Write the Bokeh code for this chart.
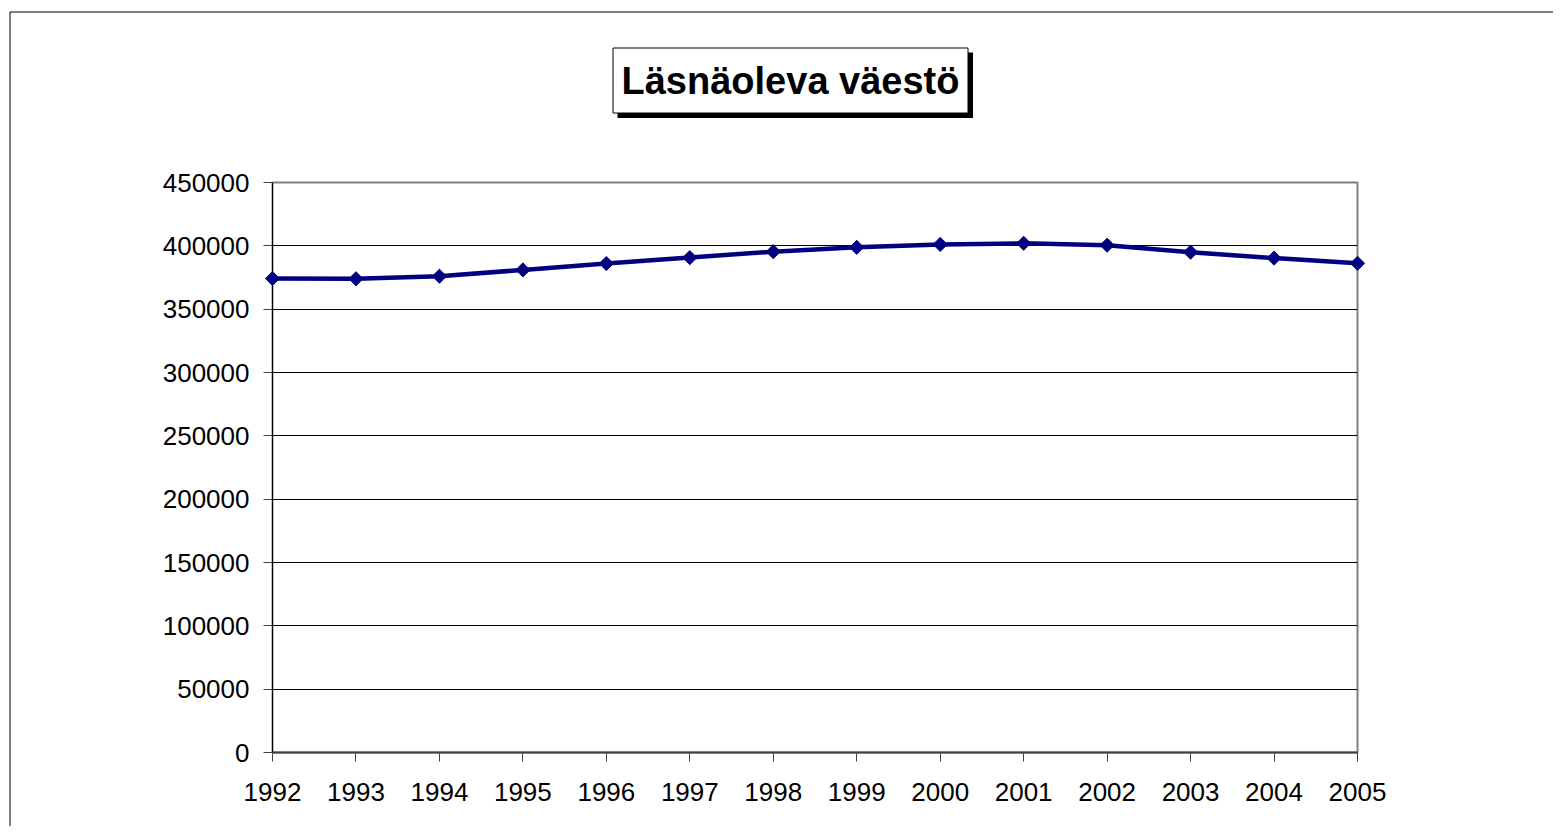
import math
from bokeh.plotting import figure
from bokeh.models import (Range1d, FixedTicker, NumeralTickFormatter, ColumnDataSource)
from bokeh.core.properties import value
from bokeh.embed import file_html
from bokeh.resources import INLINE

# ---- data ----
years = [1992, 1993, 1994, 1995, 1996, 1997, 1998, 1999, 2000, 2001, 2002, 2003, 2004, 2005]
population = [374200, 374000, 376000, 381000, 386000, 390700, 395400, 398800,
              401100, 402000, 400500, 395000, 390300, 386200]
y_ticks = [0, 50000, 100000, 150000, 200000, 250000, 300000, 350000, 400000, 450000]
grid_ticks = [50000, 100000, 150000, 200000, 250000, 300000, 350000, 400000]
title_text = "Läsnäoleva väestö"

FONT = "Liberation Sans"

W, H = 1553, 826
FL, FT, FR, FB = 272, 182, 1357, 752  # frame edges in canvas px
Y0, Y1 = 0, 450000

p = figure(width=W, height=H, output_backend="svg", toolbar_location=None,
           x_range=Range1d(years[0], years[-1]), y_range=Range1d(Y0, Y1),
           min_border_left=FL, min_border_top=FT,
           min_border_right=W - FR, min_border_bottom=H - FB)
p.background_fill_color = "white"
p.border_fill_color = "white"
p.outline_line_color = "#808080"
p.outline_line_width = 2

# axes
p.xaxis.ticker = FixedTicker(ticks=years)
p.yaxis.ticker = FixedTicker(ticks=y_ticks)
p.yaxis.formatter = NumeralTickFormatter(format="0")
for ax in (p.xaxis[0], p.yaxis[0]):
    ax.major_label_text_font = FONT
    ax.major_label_text_font_size = "26px"
    ax.major_label_text_color = "black"
    ax.major_tick_in = 0
    ax.major_tick_out = 9
    ax.minor_tick_in = 0
    ax.minor_tick_out = 0
    ax.major_tick_line_color = "#404040"
    ax.major_label_standoff = 14
p.xaxis.major_label_standoff = 21
p.xaxis.axis_line_color = "#404040"
p.xaxis.axis_line_width = 2
p.yaxis.axis_line_color = "black"
p.yaxis.axis_line_width = 1

p.xgrid.grid_line_color = None
p.ygrid.ticker = FixedTicker(ticks=grid_ticks)
p.ygrid.grid_line_color = "black"
p.ygrid.grid_line_width = 1

# data
src = ColumnDataSource(dict(x=years, y=population))
p.line("x", "y", source=src, line_color="#000080", line_width=4.5)
sc = p.scatter("x", "y", source=src, marker="square", angle=math.pi / 4, size=10,
               fill_color="#000080", line_color="#000080", line_width=1)
sc.level = "overlay"

# pixel -> data helpers for decorations outside the frame
def dx(px):
    return years[0] + (px - FL) * (years[-1] - years[0]) / (FR - FL)

def dy(py):
    return Y0 + (FB - py) * (Y1 - Y0) / (FB - FT)

# outer chart border (left & top edges are visible in the window)
border = p.segment(x0=[dx(9.5), dx(9.5)], y0=[dy(11.5), dy(11.5)],
                   x1=[dx(9.5), dx(W + 50)], y1=[dy(H + 50), dy(11.5)],
                   line_color="black", line_width=1)
border.level = "overlay"

# title box with drop shadow
shadow = p.quad(left=[dx(617)], right=[dx(972.5)], top=[dy(52)], bottom=[dy(117.5)],
                fill_color="black", line_color=None)
shadow.level = "overlay"
box = p.quad(left=[dx(612.5)], right=[dx(967.5)], top=[dy(47.5)], bottom=[dy(112.5)],
             fill_color="white", line_color="black", line_width=1)
box.level = "overlay"
ttl = p.text(x=[dx(790)], y=[dy(80)], text=[title_text], text_align="center",
             text_baseline="alphabetic", text_font=value(FONT), text_font_style="bold",
             text_font_size="38px", text_color="black")
ttl.level = "overlay"

open("out.html", "w").write(file_html(p, INLINE))
